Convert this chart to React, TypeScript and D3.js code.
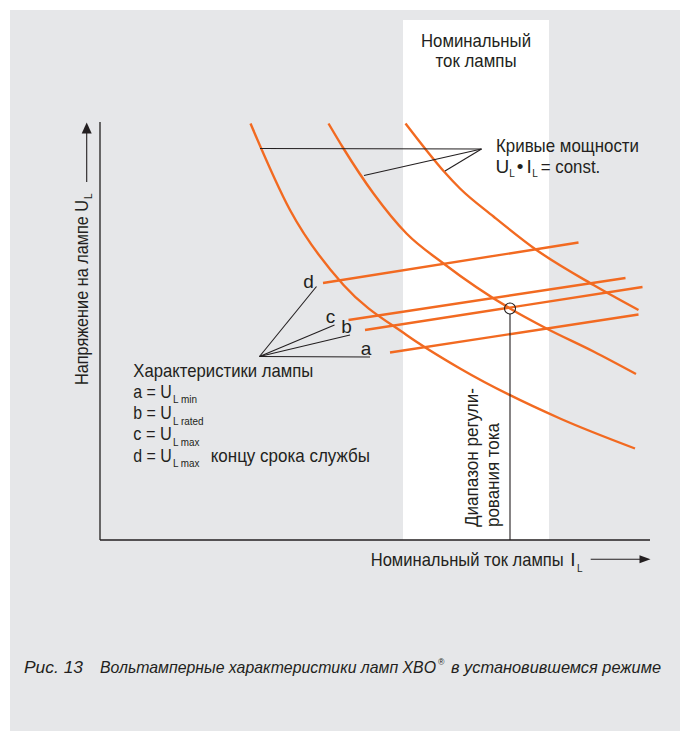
import React from "react";
import * as d3 from "d3";

// Lamp current I (relative units) vs. lamp voltage U (relative units)

// Constant-power curves U·I = const
const powerLow: [number, number][] = [
  [30.1, 83.3], [38.0, 66.0], [48.7, 51.0], [61.3, 41.0],
  [72.0, 34.3], [92.0, 24.3], [107.0, 18.3],
];
const powerMid: [number, number][] = [
  [45.7, 83.3], [48.7, 78.3], [54.7, 69.3], [61.3, 61.3], [68.7, 55.3],
  [82.0, 46.3], [89.3, 42.3], [98.7, 37.7], [107.2, 33.2],
];
const powerHigh: [number, number][] = [
  [61.1, 83.3], [65.0, 78.3], [68.8, 73.7], [72.0, 70.3], [78.7, 64.7],
  [87.3, 58.0], [98.7, 51.0], [107.7, 46.0],
];

// Lamp characteristics a–d (start and end of each straight segment)
const charKeys = ["a", "b", "c", "d"];
const charStart: [number, number][] = [[58.0, 37.5], [53.0, 42.0], [49.7, 44.0], [44.6, 51.4]];
const charEnd: [number, number][] = [[107.7, 45.1], [108.5, 50.6], [105.1, 52.4], [95.7, 59.5]];

// Rated operating point and nominal current band
const operatingPoint: [number, number] = [82.0, 46.3];
const nominalBand: [number, number] = [60.6, 89.8];

// Leader lines: apex and targets
const powerApex: [number, number] = [76.3, 78.2];
const powerTargets: [number, number][] = [[32.0, 78.3], [52.8, 72.9], [69.0, 73.8]];
const charApex: [number, number] = [31.9, 36.7];
const charTargets: [number, number][] = [[54.0, 36.6], [50.0, 41.0], [46.9, 43.0], [43.3, 50.7]];

const legendRows = [
  { key: "a", sub: "L min", subLen: 24 },
  { key: "b", sub: "L rated", subLen: 30.5 },
  { key: "c", sub: "L max", subLen: 26.5 },
  { key: "d", sub: "L max", subLen: 26.5 },
];

const W = 680;
const H = 731;
const FONT = "'Liberation Sans Narrow', 'Arial Narrow', 'Liberation Sans', Arial, sans-serif";
const INK = "#231f20";
const ORANGE = "#f26a21";
const BG = "#e6e7e9";

const base: React.SVGProps<SVGTextElement> = {
  fontFamily: FONT,
  fontSize: 19,
  fill: INK,
};

const fit = (len: number) => ({ textLength: len, lengthAdjust: "spacingAndGlyphs" as const });

export default function App() {
  const x = d3.scaleLinear().domain([0, 110]).range([100, 650]);
  const y = d3.scaleLinear().domain([0, 84]).range([540, 120]);

  const curve = d3
    .line<[number, number]>()
    .x((d) => x(d[0]))
    .y((d) => y(d[1]))
    .curve(d3.curveMonotoneX);

  const straight = d3
    .line<[number, number]>()
    .x((d) => x(d[0]))
    .y((d) => y(d[1]));

  const labelPos: Record<string, [number, number]> = {
    a: [366, 355],
    b: [346.5, 333],
    c: [330.5, 323],
    d: [308.5, 288],
  };

  return (
    <svg
      width={W}
      height={H}
      viewBox={`0 0 ${W} ${H}`}
      style={{ position: "absolute", left: 0, top: 0, display: "block" }}
    >
      <rect x={0} y={0} width={W} height={H} fill="#ffffff" />
      <rect x={10} y={10} width={W - 10} height={H - 10} fill={BG} />

      {/* nominal current band */}
      <rect
        x={x(nominalBand[0])}
        y={20}
        width={x(nominalBand[1]) - x(nominalBand[0])}
        height={y(0) - 20}
        fill="#ffffff"
      />
      <text {...base} x={476} y={47} textAnchor="middle" {...fit(110)}>Номинальный</text>
      <text {...base} x={476} y={67} textAnchor="middle" {...fit(81)}>ток лампы</text>

      {/* axes */}
      <line x1={x(0)} y1={y(0)} x2={x(0)} y2={y(83.6)} stroke={INK} strokeWidth={1.3} />
      <line x1={x(0)} y1={y(0)} x2={x(110)} y2={y(0)} stroke={INK} strokeWidth={1.3} />

      {/* power curves */}
      {[powerLow, powerMid, powerHigh].map((pts, i) => (
        <path key={`p${i}`} d={curve(pts) ?? ""} fill="none" stroke={ORANGE} strokeWidth={2.4} />
      ))}

      {/* lamp characteristics */}
      {charKeys.map((k, i) => (
        <path
          key={`c${k}`}
          d={straight([charStart[i], charEnd[i]]) ?? ""}
          fill="none"
          stroke={ORANGE}
          strokeWidth={2.4}
        />
      ))}

      {/* leaders */}
      {powerTargets.map((t, i) => (
        <path key={`lp${i}`} d={straight([powerApex, t]) ?? ""} stroke={INK} strokeWidth={1.1} fill="none" />
      ))}
      {charTargets.map((t, i) => (
        <path key={`lc${i}`} d={straight([charApex, t]) ?? ""} stroke={INK} strokeWidth={1.1} fill="none" />
      ))}

      {/* operating point and current regulation line */}
      <line
        x1={x(operatingPoint[0])}
        y1={y(operatingPoint[1]) + 5.5}
        x2={x(operatingPoint[0])}
        y2={y(0)}
        stroke={INK}
        strokeWidth={1.1}
      />
      <circle
        cx={x(operatingPoint[0])}
        cy={y(operatingPoint[1])}
        r={5.5}
        fill="none"
        stroke={INK}
        strokeWidth={1.1}
      />

      {/* curve letters */}
      {charKeys.map((k) => (
        <text key={`t${k}`} {...base} x={labelPos[k][0]} y={labelPos[k][1]} textAnchor="middle">
          {k}
        </text>
      ))}

      {/* power curve label */}
      <text {...base} x={496} y={151.7} {...fit(143)}>Кривые мощности</text>
      <text {...base} x={495.5} y={173.3}>
        <tspan>U</tspan>
        <tspan dx={0} dy={3.7} fontSize={10}>L</tspan>
        <tspan dx={2} dy={-3.7}>•</tspan>
        <tspan dx={3}>I</tspan>
        <tspan dx={0.5} dy={3.7} fontSize={10}>L</tspan>
        <tspan dx={3} dy={-3.7} {...fit(59.5)}>= const.</tspan>
      </text>

      {/* lamp characteristic legend */}
      <text {...base} x={133.3} y={376.7} {...fit(180)}>Характеристики лампы</text>
      {legendRows.map((r, i) => {
        const yb = 397.7 + i * 21.3;
        return (
          <text key={`lg${r.key}`} {...base} x={133.3} y={yb}>
            <tspan {...fit(38.5)}>{`${r.key} = U`}</tspan>
            <tspan dx={1.2} dy={5.5} fontSize={10} {...fit(r.subLen)}>{r.sub}</tspan>
            {r.key === "d" && (
              <tspan x={210.7} dy={-5.5} {...fit(159.3)}>концу срока службы</tspan>
            )}
          </text>
        );
      })}

      {/* vertical axis label */}
      <text {...base} transform="translate(88.3,385) rotate(-90)">
        <tspan {...fit(185)}>Напряжение на лампе U</tspan>
        <tspan dx={1} dy={4} fontSize={10}>L</tspan>
      </text>
      <line x1={86.7} y1={182} x2={86.7} y2={132} stroke={INK} strokeWidth={1.1} />
      <path d="M81.7,133.5 L91.7,133.5 L86.7,122.5 Z" fill={INK} />

      {/* horizontal axis label */}
      <text {...base} x={370.7} y={565.7}>
        <tspan {...fit(193)}>Номинальный ток лампы</tspan>
        <tspan dx={6.5}>I</tspan>
        <tspan dx={1.5} dy={5.8} fontSize={10}>L</tspan>
      </text>
      <line x1={590.7} y1={559.3} x2={641} y2={559.3} stroke={INK} strokeWidth={1.1} />
      <path d="M639.5,555.3 L650.5,559.3 L639.5,563.3 Z" fill={INK} />

      {/* regulation range label */}
      <text {...base} transform="translate(478,527) rotate(-90)" {...fit(139)}>Диапазон регули-</text>
      <text {...base} transform="translate(499,527) rotate(-90)" {...fit(104)}>рования тока</text>

      {/* caption */}
      <text {...base} fontSize={17} fontStyle="italic" x={24} y={673}>
        <tspan {...fit(59)}>Рис. 13</tspan>
        <tspan x={100} {...fit(336)}>Вольтамперные характеристики ламп XBO</tspan>
        <tspan dx={2} dy={-8} fontSize={8.5}>®</tspan>
        <tspan x={451} dy={8} {...fit(210)}>в установившемся режиме</tspan>
      </text>
    </svg>
  );
}
